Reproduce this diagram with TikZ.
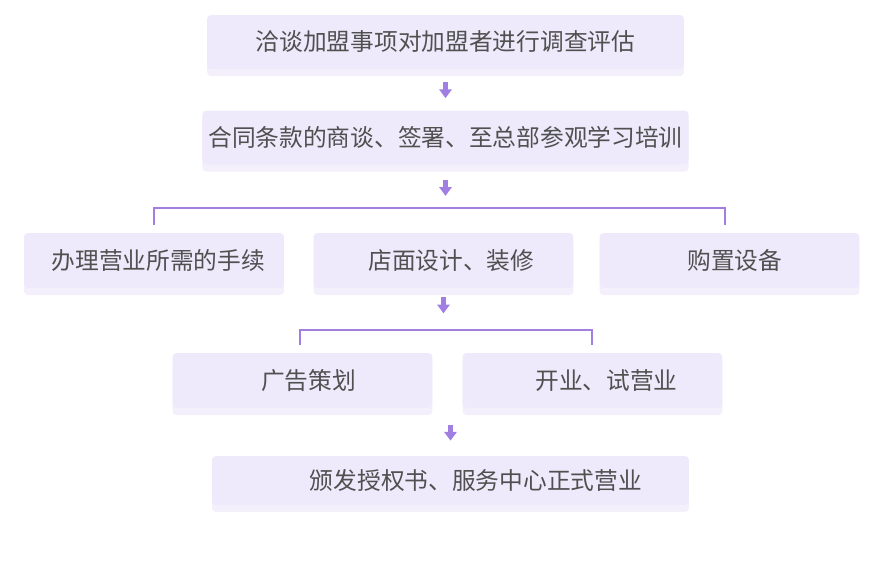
\documentclass[tikz,border=0pt]{standalone}
\usepackage{fontspec}
\setmainfont{Noto Sans CJK SC}
\usetikzlibrary{arrows.meta,shadows}
\definecolor{boxfill}{HTML}{EEEAFB}
\definecolor{linkcol}{HTML}{A07EE2}
\definecolor{txtcol}{HTML}{505050}
\tikzset{
  box/.style={fill=boxfill, rounded corners=0.08cm, minimum height=1.08cm,
    text=txtcol, font=\fontsize{13.5pt}{16pt}\selectfont,
    drop shadow={opacity=0.12, fill=linkcol, shadow xshift=0pt, shadow yshift=-4pt}},
  wide/.style={box, minimum width=9.54cm},
  half/.style={box, minimum width=5.2cm, minimum height=1.1cm},
  arr/.style={-{Triangle[length=5pt,width=7pt]}, linkcol, line width=2.5pt},
  link/.style={linkcol, line width=1.6pt}
}
\begin{document}
\begin{tikzpicture}[x=0.02cm, y=-0.02cm]
    \useasboundingbox (0,0) rectangle (890,564);
    % main steps
    \node[wide] (talk) at (445.5,42) {洽谈加盟事项对加盟者进行调查评估};
    \node[wide] (sign) at (445.5,137.5) {合同条款的商谈、签署、至总部参观学习培训};
    % parallel row
    \node[half] (lic) at (154,260.5) {\hspace*{5pt}办理营业所需的手续};
    \node[half] (deco) at (443.5,260.5) {\hspace*{9pt}店面设计、装修};
    \node[half] (equip) at (729.5,260.5) {\hspace*{6pt}购置设备};
    \node[half] (ad) at (302.5,380.5) {\hspace*{7pt}广告策划};
    \node[half] (open) at (592.5,380.5) {\hspace*{16pt}开业、试营业};
    % last step
    \node[wide, minimum height=0.98cm] (cert) at (450.5,480.5) {\hspace*{29pt}颁发授权书、服务中心正式营业};
    % arrows
    \draw[arr] ([shift={(0,13)}]talk.south) -- ([shift={(0,-12)}]sign.north);
    \draw[arr] ([shift={(0,15)}]sign.south) -- ++(0,16);
    \draw[arr] ([shift={(0,9)}]deco.south) -- ++(0,16);
    \draw[arr] ([shift={(0,17)}]open.south -| cert.north) -- ([shift={(0,-15)}]cert.north);
    % brackets
    \draw[link] ([shift={(0,-8)}]lic.north) |- (445,208) -| ([shift={(-4.5,-8)}]equip.north);
    \draw[link] ([shift={(-2.5,-8)}]ad.north) |- (445,330) -| ([shift={(-0.5,-8)}]open.north);
\end{tikzpicture}
\end{document}
